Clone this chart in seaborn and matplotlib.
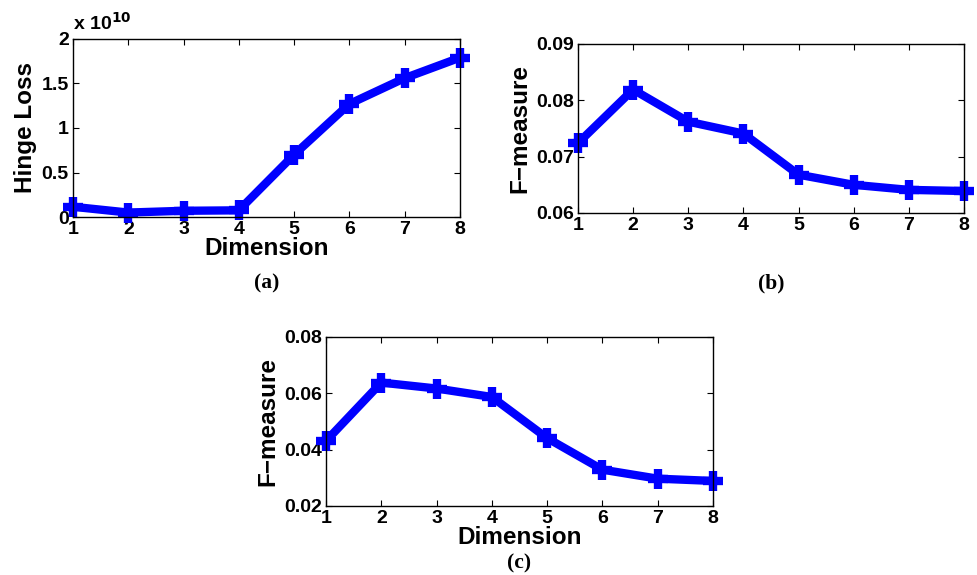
import matplotlib
matplotlib.use('Agg')
import matplotlib.pyplot as plt
import seaborn as sns
from matplotlib.ticker import FormatStrFormatter

sns.set_style('ticks')
plt.rcParams['font.family'] = ['Liberation Sans', 'DejaVu Sans']
plt.rcParams['font.weight'] = 'bold'
plt.rcParams['text.color'] = 'black'
plt.rcParams['axes.labelcolor'] = 'black'
plt.rcParams['xtick.color'] = 'black'
plt.rcParams['ytick.color'] = 'black'
plt.rcParams['axes.edgecolor'] = 'black'

# data
dims = [1, 2, 3, 4, 5, 6, 7, 8]
hinge_loss = [0.115, 0.05, 0.07, 0.075, 0.70, 1.27, 1.56, 1.79]  # x 10^10
fmeasure_b = [0.0724, 0.0819, 0.0762, 0.0741, 0.0668, 0.0650, 0.0641, 0.0639]
fmeasure_c = [0.0431, 0.0638, 0.0617, 0.0587, 0.0441, 0.0329, 0.0297, 0.0289]

yticks_a = [0, 0.5, 1, 1.5, 2]
yticks_b = [0.06, 0.07, 0.08, 0.09]
yticks_c = [0.02, 0.04, 0.06, 0.08]

fig = plt.figure(figsize=(9.77, 5.75), dpi=100)
fig.patch.set_facecolor('white')

def panel(rect, y, yticks, ylabel, xlabel, caption, cap_y, fmt):
    ax = fig.add_axes(rect)
    sns.lineplot(x=dims, y=y, ax=ax, color='#0000ff', lw=6, marker='+',
                 markersize=14, markeredgewidth=6, markeredgecolor='#0000ff',
                 clip_on=False)
    ax.set_xlim(1, 8)
    ax.set_ylim(yticks[0], yticks[-1])
    ax.set_xticks(dims)
    ax.set_yticks(yticks)
    ax.yaxis.set_major_formatter(fmt)
    ax.tick_params(direction='in', length=4, width=0.8, top=True, right=True,
                   labelsize=14, pad=3)
    for lab in ax.get_xticklabels() + ax.get_yticklabels():
        lab.set_fontweight('bold')
    for s in ax.spines.values():
        s.set_linewidth(1.0)
    ax.set_ylabel(ylabel, fontsize=17.5, fontweight='bold', labelpad=3)
    if xlabel:
        ax.set_xlabel(xlabel, fontsize=17.5, fontweight='bold', labelpad=-1)
    cx = rect[0] + rect[2] / 2
    fig.text(cx, cap_y, caption, ha='center', va='center', fontsize=15.5,
             fontweight='bold', family='Liberation Serif')
    return ax

ax_a = panel([0.0747, 0.6226, 0.396, 0.3096], hinge_loss, yticks_a, 'Hinge Loss',
             'Dimension', '(a)', 1 - 283 / 575, FormatStrFormatter('%g'))
ax_a.text(0.0, 1.03, 'x 10$^{10}$', transform=ax_a.transAxes, fontsize=14,
          fontweight='bold', ha='left', va='bottom')

panel([0.5916, 0.6296, 0.395, 0.294], fmeasure_b, yticks_b, 'F\u2212measure',
      None, '(b)', 1 - 283 / 575, FormatStrFormatter('%.2f'))

panel([0.3337, 0.12, 0.396, 0.294], fmeasure_c, yticks_c, 'F\u2212measure',
      'Dimension', '(c)', 1 - 563 / 575, FormatStrFormatter('%.2f'))

fig.savefig('out.png', dpi=100)
